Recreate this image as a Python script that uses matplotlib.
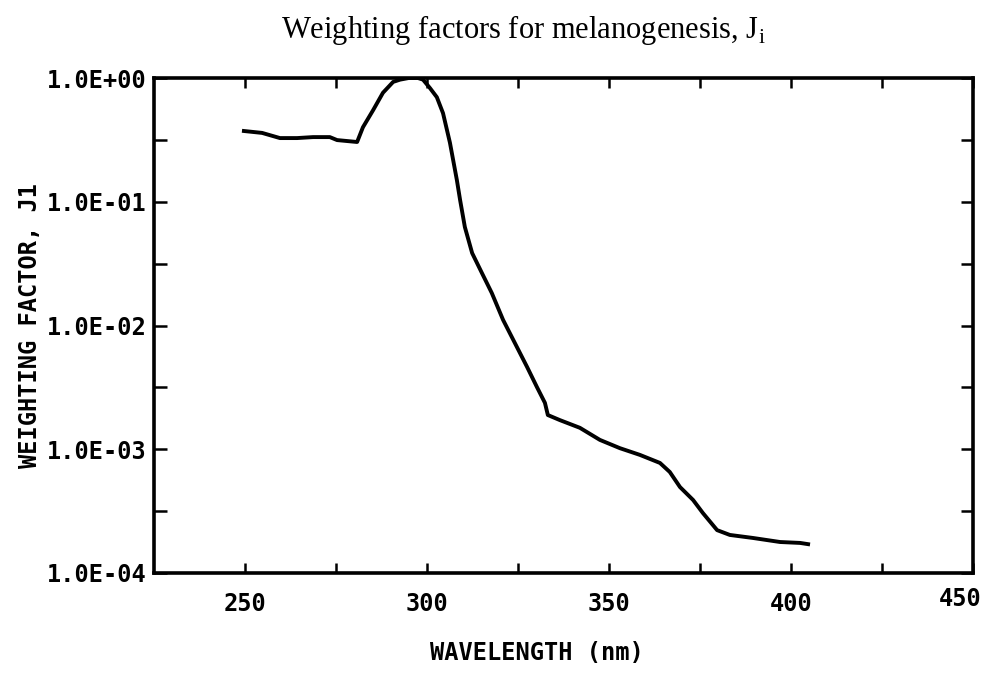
import numpy as np
import matplotlib
matplotlib.use("Agg")
import matplotlib.pyplot as plt
from matplotlib.ticker import FixedLocator, NullFormatter
from matplotlib.transforms import ScaledTranslation

# Melanogenesis weighting factor
wavelength = [249.7, 254.7, 259.6, 264.3, 268.7, 273.3, 275.3, 280.8, 282.4, 285.2,
              287.9, 290.7, 292.6, 295.0, 297.5, 298.9, 300.8, 302.7, 304.4, 306.3,
              308.2, 309.1, 310.4, 312.4, 315.1, 317.8, 320.9, 324.7, 327.5, 330.2,
              332.4, 333.2, 336.5, 342.0, 347.5, 353.0, 358.5, 364.0, 366.7, 369.5,
              373.1, 375.8, 379.7, 383.2, 389.5, 397.0, 402.5, 404.7]
weight = [0.373, 0.360, 0.327, 0.327, 0.333, 0.333, 0.315, 0.304, 0.40, 0.55,
          0.76, 0.93, 0.97, 1.0, 1.0, 0.97, 0.83, 0.70, 0.52, 0.30,
          0.15, 0.103, 0.0625, 0.0385, 0.0265, 0.0183, 0.0111, 0.0067, 0.00462, 0.00318,
          0.00237, 0.00189, 0.00172, 0.00149, 0.00119, 0.00102, 0.00090, 0.000775, 0.000655, 0.000495,
          0.000389, 0.000305, 0.000222, 0.000203, 0.000192, 0.000178, 0.000175, 0.000171]

x_ticks = [250, 275, 300, 325, 350, 375, 400, 425, 450]
x_labels = ["250", "", "300", "", "350", "", "400", "", "450"]
y_ticks = [1e-4, 1e-3, 1e-2, 1e-1, 1e0]
y_labels = ["1.0E-04", "1.0E-03", "1.0E-02", "1.0E-01", "1.0E+00"]

mono = "DejaVu Sans Mono"
plt.rcParams["mathtext.fontset"] = "custom"
plt.rcParams["mathtext.rm"] = "Liberation Serif"

fig = plt.figure(figsize=(9.92, 6.81), dpi=100)
ax = fig.add_axes([154 / 992, 1 - 573 / 681, 819 / 992, 495 / 681])

ax.plot(wavelength, weight, color="black", linewidth=2.8)

ax.set_yscale("log")
ax.set_xlim(225, 450)
ax.set_ylim(1e-4, 1e0)

ax.xaxis.set_major_locator(FixedLocator(x_ticks))
ax.set_xticklabels(x_labels, fontfamily=mono, fontsize=17, fontweight="bold")
ax.yaxis.set_major_locator(FixedLocator(y_ticks))
ax.yaxis.set_minor_locator(FixedLocator([10 ** (-0.5 - k) for k in range(4)]))
ax.yaxis.set_minor_formatter(NullFormatter())
ax.set_yticklabels(y_labels, fontfamily=mono, fontsize=17, fontweight="bold")

ax.tick_params(axis="x", which="both", direction="in", top=True, length=7, width=1.8, pad=14)
ax.tick_params(axis="y", which="both", direction="in", right=True, length=9, width=1.8, pad=5)
for s in ax.spines.values():
    s.set_linewidth(2.6)

# last x label sits a bit left and higher, as on the original
lab = ax.get_xticklabels()[-1]
lab.set_transform(lab.get_transform() + ScaledTranslation(-9 / 72, 4 / 72, fig.dpi_scale_trans))

fig.text(523 / 992, 1 - 30 / 681, r"Weighting factors for melanogenesis, J$_\mathrm{i}$",
         ha="center", va="center", fontfamily="Liberation Serif", fontsize=22)
fig.text(537 / 992, 1 - 653 / 681, "WAVELENGTH (nm)", ha="center", va="center",
         fontfamily=mono, fontsize=17, fontweight="bold")
fig.text(30 / 992, 1 - 326 / 681, "WEIGHTING FACTOR, J1", ha="center", va="center",
         rotation=90, fontfamily=mono, fontsize=17, fontweight="bold")

fig.savefig("out.png", dpi=100)
